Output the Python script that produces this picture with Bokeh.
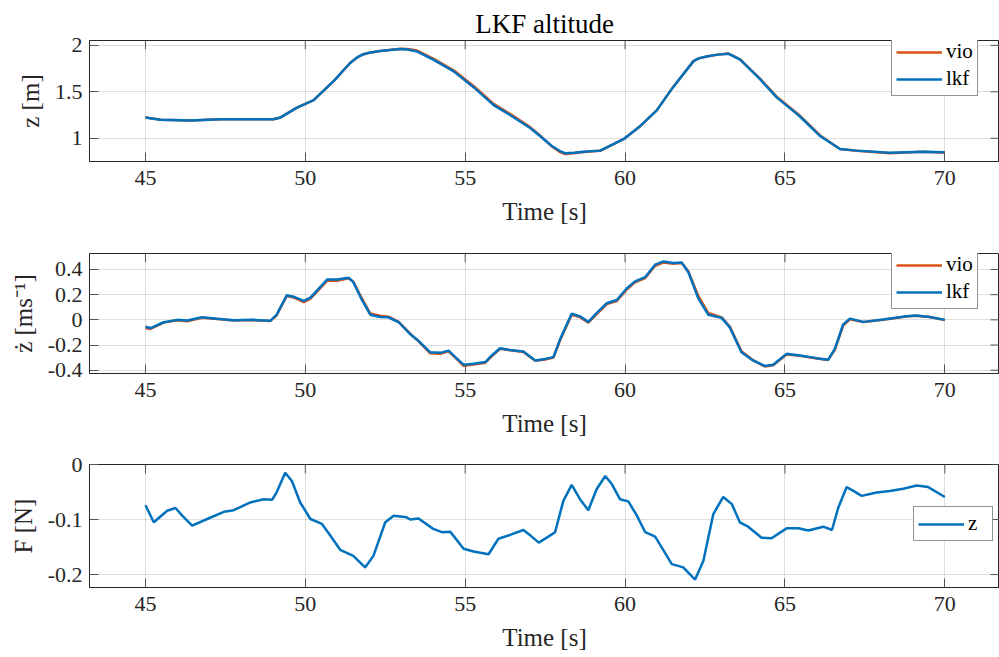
from bokeh.plotting import figure
from bokeh.layouts import column
from bokeh.models import Range1d, FixedTicker, Legend, LegendItem
from bokeh.embed import file_html
from bokeh.resources import INLINE

FONT = "Liberation Serif"
BLUE = "#0072BD"
ORANGE = "#D95319"
INK = "#262626"

# ---- altitude z [m] ----
t_z = [45.0, 45.47, 46.4, 47.34, 48.28, 49.0, 49.2, 49.74, 50.0, 50.26, 50.9, 51.4,
       51.62, 51.82, 52.0, 52.34, 52.97, 53.2, 53.49, 54.0, 54.64, 55.26, 55.89, 56.4,
       57.03, 57.34, 57.7, 57.95, 58.12, 58.4, 58.7, 59.22, 59.95, 60.47, 60.99, 61.5,
       62.14, 62.3, 62.55, 62.9, 63.23, 63.6, 64.22, 64.74, 65.47, 66.1, 66.72, 67.24,
       68.28, 69.32, 70.0]
z_lkf = [1.224, 1.20, 1.19, 1.205, 1.205, 1.205, 1.22, 1.33, 1.37, 1.41, 1.62, 1.81,
         1.87, 1.905, 1.92, 1.94, 1.96, 1.955, 1.934, 1.846, 1.72, 1.55, 1.357, 1.25,
         1.11, 1.024, 0.92, 0.865, 0.84, 0.845, 0.856, 0.867, 0.99, 1.13, 1.30, 1.55,
         1.83, 1.86, 1.88, 1.9, 1.91, 1.846, 1.636, 1.44, 1.234, 1.024, 0.885, 0.867,
         0.843, 0.856, 0.849]
z_vio = [1.224, 1.20, 1.19, 1.205, 1.205, 1.205, 1.22, 1.33, 1.37, 1.41, 1.62, 1.81,
         1.87, 1.905, 1.92, 1.94, 1.962, 1.96, 1.944, 1.858, 1.732, 1.562, 1.37, 1.262,
         1.12, 1.03, 0.915, 0.855, 0.83, 0.84, 0.853, 0.865, 0.99, 1.13, 1.30, 1.55,
         1.83, 1.86, 1.88, 1.9, 1.912, 1.85, 1.642, 1.448, 1.242, 1.03, 0.885, 0.865,
         0.84, 0.855, 0.845]

# ---- vertical velocity [m/s] ----
t_v = [45.0, 45.16, 45.57, 45.99, 46.3, 46.77, 47.24, 47.76, 48.38, 48.9, 49.1, 49.42,
       49.63, 49.95, 50.16, 50.68, 51.0, 51.35, 51.5, 51.77, 52.03, 52.34, 52.6, 52.92,
       53.28, 53.54, 53.9, 54.22, 54.48, 54.69, 54.95, 55.26, 55.63, 55.83, 56.09, 56.4,
       56.82, 57.19, 57.5, 57.76, 57.97, 58.33, 58.59, 58.85, 59.11, 59.43, 59.74, 60.05,
       60.31, 60.63, 60.94, 61.2, 61.51, 61.77, 61.98, 62.29, 62.6, 63.02, 63.28, 63.64,
       64.0, 64.37, 64.63, 65.05, 65.47, 65.99, 66.35, 66.56, 66.82, 67.03, 67.45, 68.07,
       68.8, 69.1, 69.53, 70.0]
v_lkf = [-0.055, -0.065, -0.019, 0.0, -0.005, 0.02, 0.008, -0.003, 0.0, -0.008, 0.04, 0.195,
         0.184, 0.15, 0.176, 0.32, 0.32, 0.335, 0.30, 0.158, 0.041, 0.023, 0.02, -0.019,
         -0.114, -0.166, -0.257, -0.262, -0.244, -0.296, -0.356, -0.348, -0.335, -0.283, -0.226, -0.239,
         -0.252, -0.322, -0.31, -0.296, -0.153, 0.049, 0.028, -0.016, 0.054, 0.132, 0.158, 0.249,
         0.306, 0.34, 0.438, 0.464, 0.451, 0.456, 0.378, 0.171, 0.041, 0.016, -0.062, -0.257,
         -0.322, -0.366, -0.356, -0.27, -0.283, -0.304, -0.317, -0.231, -0.037, 0.01, -0.016, 0.002,
         0.028, 0.034, 0.023, 0.0]
v_vio = [-0.065, -0.072, -0.022, -0.003, -0.012, 0.016, 0.006, -0.005, -0.002, -0.01, 0.035, 0.19,
         0.178, 0.14, 0.168, 0.31, 0.31, 0.33, 0.305, 0.17, 0.05, 0.032, 0.025, -0.016,
         -0.11, -0.17, -0.265, -0.27, -0.25, -0.3, -0.365, -0.355, -0.34, -0.29, -0.23, -0.242,
         -0.255, -0.325, -0.315, -0.3, -0.16, 0.04, 0.022, -0.022, 0.046, 0.125, 0.15, 0.24,
         0.298, 0.332, 0.43, 0.455, 0.446, 0.452, 0.385, 0.19, 0.055, 0.02, -0.055, -0.25,
         -0.32, -0.37, -0.36, -0.275, -0.286, -0.306, -0.318, -0.238, -0.045, 0.005, -0.018, 0.0,
         0.026, 0.033, 0.022, -0.002]

# ---- thrust force [N] ----
t_f = [45.0, 45.26, 45.68, 45.94, 46.15, 46.46, 46.93, 47.45, 47.76, 48.28, 48.7, 48.96,
       49.1, 49.37, 49.58, 49.84, 50.16, 50.52, 50.78, 51.09, 51.5, 51.87, 52.13, 52.5,
       52.76, 53.17, 53.28, 53.54, 54.0, 54.27, 54.53, 54.95, 55.26, 55.73, 56.04, 56.4,
       56.82, 57.0, 57.3, 57.6, 57.81, 58.07, 58.33, 58.59, 58.85, 59.11, 59.38, 59.59,
       59.84, 60.1, 60.37, 60.63, 60.94, 61.15, 61.46, 61.82, 62.19, 62.45, 62.76, 63.07,
       63.34, 63.59, 63.85, 64.27, 64.58, 65.05, 65.42, 65.73, 66.2, 66.47, 66.67, 66.93,
       67.14, 67.4, 67.87, 68.28, 68.7, 69.12, 69.48, 70.0]
f_z = [-0.074, -0.105, -0.084, -0.079, -0.093, -0.111, -0.099, -0.086, -0.083, -0.069, -0.063, -0.064,
       -0.051, -0.015, -0.030, -0.069, -0.099, -0.108, -0.129, -0.155, -0.166, -0.187, -0.166, -0.105,
       -0.093, -0.096, -0.100, -0.098, -0.117, -0.123, -0.122, -0.153, -0.158, -0.163, -0.135, -0.128,
       -0.119, -0.127, -0.142, -0.131, -0.123, -0.066, -0.037, -0.063, -0.083, -0.045, -0.021, -0.036,
       -0.063, -0.067, -0.093, -0.123, -0.131, -0.151, -0.181, -0.187, -0.209, -0.175, -0.090, -0.059,
       -0.072, -0.105, -0.113, -0.133, -0.134, -0.116, -0.116, -0.120, -0.113, -0.119, -0.078, -0.041,
       -0.048, -0.057, -0.051, -0.048, -0.044, -0.038, -0.041, -0.059]

x_ticks = [45, 50, 55, 60, 65, 70]
x_labels = ["45", "50", "55", "60", "65", "70"]
z_ticks = [1, 1.5, 2]
z_labels = ["1", "1.5", "2"]
v_ticks = [-0.4, -0.2, 0, 0.2, 0.4]
v_labels = ["-0.4", "-0.2", "0", "0.2", "0.4"]
f_ticks = [-0.2, -0.1, 0]
f_labels = ["-0.2", "-0.1", "0"]

X_RANGE = (43.25, 71.71)
TICK_PX = 9
FRAME_W = 910
LEFT = 89


def style_axis(ax, ticks, labels):
    ax.ticker = FixedTicker(ticks=ticks)
    ax.major_label_overrides = {t: s for t, s in zip(ticks, labels)}
    ax.major_tick_in = TICK_PX
    ax.major_tick_out = 0
    ax.minor_tick_in = 0
    ax.minor_tick_out = 0
    ax.major_tick_line_color = "#555555"
    ax.major_tick_line_width = 1
    ax.axis_line_color = INK
    ax.major_label_text_font = FONT
    ax.major_label_text_color = INK
    ax.major_label_text_font_size = "22px"
    ax.axis_label_text_font = FONT
    ax.axis_label_text_font_size = "25px"
    ax.axis_label_text_font_style = "normal"
    ax.axis_label_text_color = INK


def make_panel(height, top, bottom, y_range, y_ticks, y_labels, y_label, title=None):
    frame_h = height - top - bottom
    p = figure(width=999, height=height, x_range=Range1d(*X_RANGE), y_range=Range1d(*y_range),
               output_backend="svg", toolbar_location=None,
               min_border_left=LEFT, min_border_right=0, min_border_top=top,
               min_border_bottom=bottom)
    p.background_fill_color = "white"
    p.border_fill_color = "white"
    p.outline_line_color = INK
    p.outline_line_width = 1

    xa = p.xaxis[0]
    style_axis(xa, x_ticks, x_labels)
    xa.major_label_standoff = 9
    xa.axis_label = "Time [s]"
    xa.axis_label_standoff = 10

    ya = p.yaxis[0]
    style_axis(ya, y_ticks, y_labels)
    ya.major_label_standoff = 7
    ya.axis_label = y_label
    ya.axis_label_standoff = 8

    # inward tick marks along the top and right edges of the box
    dy = TICK_PX * (y_range[1] - y_range[0]) / frame_h
    dx = TICK_PX * (X_RANGE[1] - X_RANGE[0]) / FRAME_W
    p.segment(x0=x_ticks, y0=[y_range[1]] * len(x_ticks), x1=x_ticks,
              y1=[y_range[1] - dy] * len(x_ticks), line_color="#555555", line_width=1)
    p.segment(x0=[X_RANGE[1]] * len(y_ticks), y0=y_ticks, x1=[X_RANGE[1] - dx] * len(y_ticks),
              y1=y_ticks, line_color="#555555", line_width=1)

    p.xgrid.ticker = FixedTicker(ticks=x_ticks)
    p.ygrid.ticker = FixedTicker(ticks=y_ticks)
    for g in (p.xgrid[0], p.ygrid[0]):
        g.grid_line_color = INK
        g.grid_line_alpha = 0.15
        g.grid_line_width = 1

    if title:
        p.title.text = title
        p.title.align = "center"
        p.title.text_font = FONT
        p.title.text_font_size = "27px"
        p.title.text_font_style = "normal"
        p.title.text_color = "black"
        p.title.standoff = 4
    return p


def style_legend(leg, loc):
    leg.location = loc
    leg.border_line_color = INK
    leg.border_line_width = 1
    leg.background_fill_color = "white"
    leg.background_fill_alpha = 1
    leg.label_text_font = FONT
    leg.label_text_font_size = "21px"
    leg.label_text_color = "black"
    leg.padding = 4
    leg.spacing = 2
    leg.margin = 0
    leg.glyph_width = 46
    leg.glyph_height = 22
    leg.label_height = 22
    leg.label_standoff = 4


# altitude panel
p1 = make_panel(227, 40, 63, (0.75, 2.052), z_ticks, z_labels, "z [m]", title="LKF altitude")
r1v = p1.line(t_z, z_vio, line_color=ORANGE, line_width=2.5)
r1l = p1.line(t_z, z_lkf, line_color=BLUE, line_width=2.5)
leg1 = Legend(items=[LegendItem(label="vio", renderers=[r1v]), LegendItem(label="lkf", renderers=[r1l])])
style_legend(leg1, (802, 65))
p1.add_layout(leg1)

# velocity panel
p2 = make_panel(212, 26, 64, (-0.426, 0.527), v_ticks, v_labels, "ż [ms⁻¹]")
r2v = p2.line(t_v, v_vio, line_color=ORANGE, line_width=2.5)
r2l = p2.line(t_v, v_lkf, line_color=BLUE, line_width=2.5)
leg2 = Legend(items=[LegendItem(label="vio", renderers=[r2v]), LegendItem(label="lkf", renderers=[r2l])])
style_legend(leg2, (802, 64))
p2.add_layout(leg2)

# force panel
p3 = make_panel(218, 25, 70, (-0.2235, 0.0), f_ticks, f_labels, "F [N]")
r3 = p3.line(t_f, f_z, line_color=BLUE, line_width=2.5)
leg3 = Legend(items=[LegendItem(label="z", renderers=[r3])])
style_legend(leg3, (824, 46))
p3.add_layout(leg3)

layout = column(p1, p2, p3, spacing=0)
open("out.html", "w").write(file_html(layout, INLINE))
